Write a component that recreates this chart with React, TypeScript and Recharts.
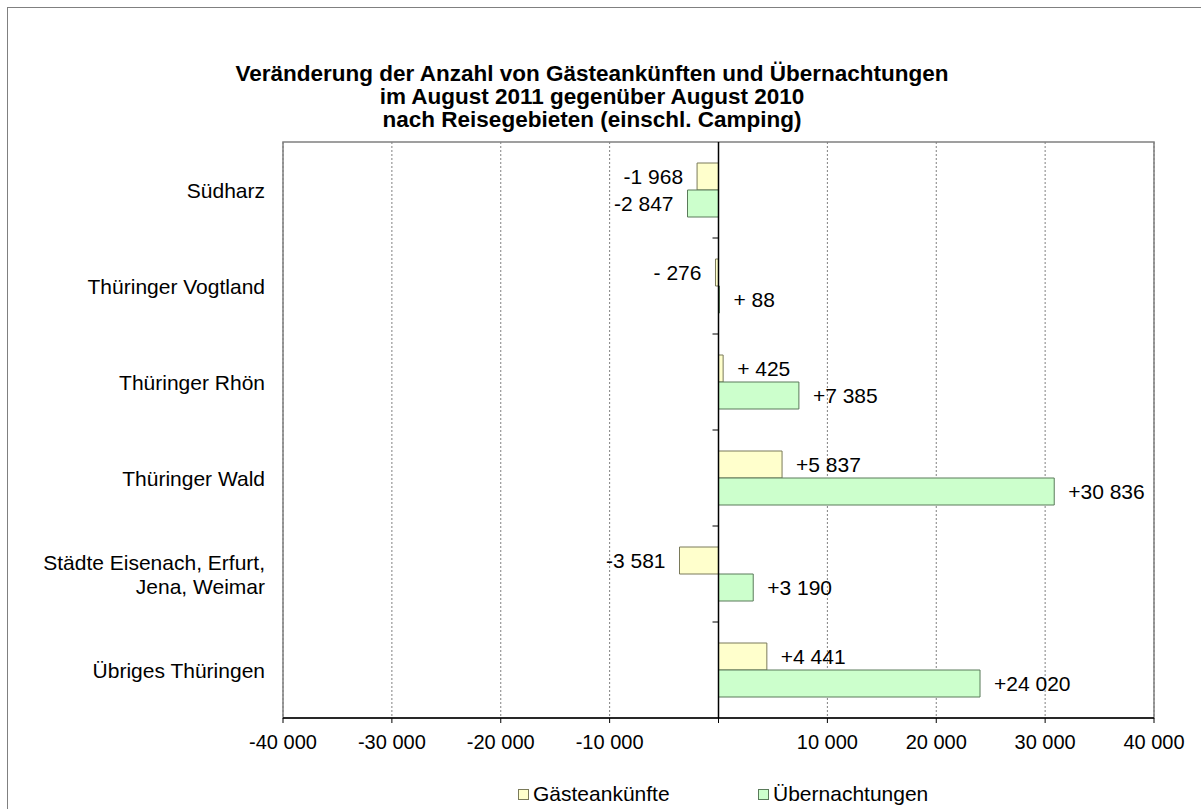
import { BarChart, Bar, XAxis, YAxis, CartesianGrid, ReferenceLine, ReferenceArea, LabelList } from 'recharts'

const REGIONS = [
  'Südharz',
  'Thüringer Vogtland',
  'Thüringer Rhön',
  'Thüringer Wald',
  'Städte Eisenach, Erfurt,\nJena, Weimar',
  'Übriges Thüringen',
]
const ARRIVALS = [-1968, -276, 425, 5837, -3581, 4441]
const NIGHTS = [-2847, 88, 7385, 30836, 3190, 24020]
const X_TICKS = [-40000, -30000, -20000, -10000, 0, 10000, 20000, 30000, 40000]
const X_TICK_LABELS = ['-40 000', '-30 000', '-20 000', '-10 000', '', '10 000', '20 000', '30 000', '40 000']
const TITLE = [
  'Veränderung der Anzahl von Gästeankünften und Übernachtungen',
  'im August 2011 gegenüber August 2010',
  'nach Reisegebieten (einschl. Camping)',
]
const SERIES = [
  { key: 'arrivals', label: 'Gästeankünfte', fill: '#FFFFCC', stroke: '#7a7a5a' },
  { key: 'nights', label: 'Übernachtungen', fill: '#CCFFCC', stroke: '#5a7a5a' },
]

const FONT = '"Liberation Sans", Arial, sans-serif'

const data = REGIONS.map((name, i) => ({ name, arrivals: ARRIVALS[i], nights: NIGHTS[i] }))

// Excel-style "+# ##0" format: small numbers keep a blank where the group digit would be
function fmt(v: number) {
  const sign = v < 0 ? '-' : '+'
  const a = Math.abs(v)
  if (a < 1000) return sign + ' ' + a
  return sign + Math.floor(a / 1000) + ' ' + String(a % 1000).padStart(3, '0')
}

function ValueLabel(props: any) {
  const { x, y, width, height, value } = props
  const left = Math.min(x, x + width)
  const right = Math.max(x, x + width)
  const neg = value < 0
  return (
    <text
      x={neg ? left - 14 : right + 14}
      y={y + height / 2}
      textAnchor={neg ? 'end' : 'start'}
      dominantBaseline="central"
      fontSize={21}
      fontFamily={FONT}
      fill="#000"
    >
      {fmt(value)}
    </text>
  )
}

function CategoryTick(props: any) {
  const { y, payload } = props
  const lines = String(payload.value).split('\n')
  const start = y - ((lines.length - 1) * 24) / 2
  return (
    <text x={257} textAnchor="end" fontSize={21} fontFamily={FONT} fill="#000">
      {lines.map((l, i) => (
        <tspan key={i} x={257} y={start + i * 24} dominantBaseline="central">{l}</tspan>
      ))}
    </text>
  )
}

function LegendBox() {
  return (
    <div
      style={{
        position: 'absolute',
        top: 774,
        left: 510,
        display: 'flex',
        fontFamily: FONT,
        fontSize: 21,
        color: '#000',
      }}
    >
      {SERIES.map(s => (
        <div key={s.key} style={{ display: 'flex', alignItems: 'center', width: 240 }}>
          <span style={{ width: 9, height: 9, background: s.fill, border: `1px solid ${s.stroke}`, marginRight: 4 }} />
          <span>{s.label}</span>
        </div>
      ))}
    </div>
  )
}

export default function App() {
  return (
    <div
      style={{
        position: 'absolute',
        top: 7,
        left: 7,
        width: 1200,
        height: 810,
        border: '1px solid #808080',
        boxSizing: 'border-box',
        background: '#fff',
      }}
    >
      <div
        style={{
          position: 'absolute',
          top: 54,
          left: 0,
          width: 1168,
          textAlign: 'center',
          fontFamily: FONT,
          fontWeight: 'bold',
          fontSize: 22.5,
          lineHeight: '23px',
          color: '#000',
        }}
      >
        {TITLE.map(t => <div key={t}>{t}</div>)}
      </div>
      <BarChart
        width={1192}
        height={801}
        data={data}
        layout="vertical"
        margin={{ top: 134, right: 46, bottom: 61, left: 0 }}
        barSize={27}
        barGap={0}
      >
        <CartesianGrid horizontal={false} stroke="#808080" strokeDasharray="2 2" />
        <ReferenceArea x1={-40000} x2={40000} fill="none" stroke="#808080" strokeWidth={1.5} ifOverflow="visible" />
        <XAxis
          type="number"
          domain={[-40000, 40000]}
          ticks={X_TICKS}
          tickFormatter={(v: number) => X_TICK_LABELS[X_TICKS.indexOf(v)]}
          axisLine={{ stroke: '#000', strokeWidth: 1.5 }}
          tickLine={{ stroke: '#000' }}
          tickSize={5}
          tickMargin={12}
          tick={{ fontSize: 20, fontFamily: FONT, fill: '#000' }}
          allowDataOverflow
        />
        <YAxis
          type="category"
          dataKey="name"
          width={275}
          axisLine={false}
          tickLine={false}
          tick={<CategoryTick />}
          interval={0}
        />
        {SERIES.map(s => (
          <Bar
            key={s.key}
            dataKey={s.key}
            name={s.label}
            fill={s.fill}
            stroke={s.stroke}
            strokeWidth={1}
            isAnimationActive={false}
          >
            <LabelList dataKey={s.key} content={<ValueLabel />} />
          </Bar>
        ))}
        <ReferenceLine x={0} stroke="#000" strokeWidth={1.5} />
        {REGIONS.slice(1).map(r => (
          <ReferenceLine
            key={r}
            segment={[{ x: -550, y: r }, { x: 0, y: r }]}
            position="start"
            stroke="#000"
          />
        ))}
      </BarChart>
      <LegendBox />
    </div>
  )
}
